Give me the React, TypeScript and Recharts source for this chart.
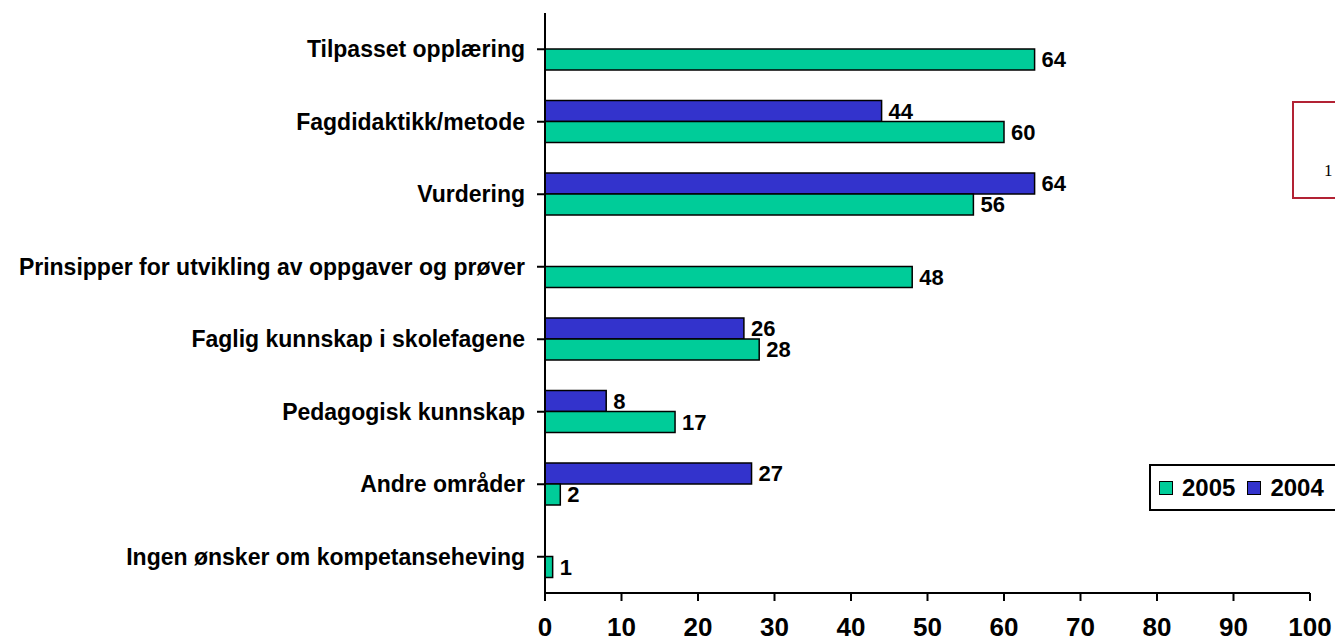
import React from 'react';
import { Bar, BarChart, LabelList, Legend, XAxis, YAxis } from 'recharts';

const categories = [
  'Tilpasset opplæring',
  'Fagdidaktikk/metode',
  'Vurdering',
  'Prinsipper for utvikling av oppgaver og prøver',
  'Faglig kunnskap i skolefagene',
  'Pedagogisk kunnskap',
  'Andre områder',
  'Ingen ønsker om kompetanseheving',
];
const values2005 = [64, 60, 56, 48, 28, 17, 2, 1];
const values2004: (number | null)[] = [null, 44, 64, null, 26, 8, 27, null];
const xTicks = [0, 10, 20, 30, 40, 50, 60, 70, 80, 90, 100];

const GREEN = '#00cc99';
const BLUE = '#3333cc';
const FONT = '"Liberation Sans", Arial, sans-serif';

const data = categories.map((name, i) => ({
  name,
  y2005: values2005[i],
  y2004: values2004[i],
}));

const ValueLabel = (props: any) => {
  const { x, y, width, height, value } = props;
  if (value === null || value === undefined) return null;
  return (
    <text
      x={x + width + 7}
      y={y + height / 2}
      dominantBaseline="central"
      fontFamily={FONT}
      fontWeight="bold"
      fontSize={22}
      fill="#000"
    >
      {value}
    </text>
  );
};

// legend order as in the original: 2005 first
const legendItems = [
  { label: '2005', color: GREEN },
  { label: '2004', color: BLUE },
];

const LegendBox = () => (
  <div
    style={{
      boxSizing: 'border-box',
      width: 200,
      height: 47,
      border: '2px solid #000',
      background: '#fff',
      paddingLeft: 8,
      display: 'flex',
      alignItems: 'center',
      fontFamily: FONT,
      fontWeight: 'bold',
      fontSize: 24,
      whiteSpace: 'nowrap',
    }}
  >
    {legendItems.map((it) => (
      <span key={it.label} style={{ display: 'flex', alignItems: 'center', marginRight: 12 }}>
        <span
          style={{
            boxSizing: 'border-box',
            width: 14,
            height: 14,
            background: it.color,
            border: '1.5px solid #000',
            marginRight: 9,
            display: 'inline-block',
          }}
        />
        {it.label}
      </span>
    ))}
  </div>
);

export default function App() {
  return (
    <div
      style={{
        position: 'fixed',
        left: 0,
        top: 0,
        width: 1335,
        height: 644,
        overflow: 'hidden',
        background: '#fff',
      }}
    >
      <BarChart
        width={1335}
        height={644}
        data={data}
        layout="vertical"
        margin={{ top: 13, right: 25, left: 0, bottom: 0 }}
        barGap={0}
      >
        <XAxis
          type="number"
          domain={[0, 100]}
          ticks={xTicks}
          interval={0}
          height={51}
          stroke="#000"
          strokeWidth={2}
          tickSize={8}
          tickMargin={17}
          tick={{ fontFamily: FONT, fontWeight: 'bold', fontSize: 26, fill: '#000' }}
        />
        <YAxis
          type="category"
          dataKey="name"
          width={545}
          stroke="#000"
          strokeWidth={2}
          tickSize={8}
          tickMargin={12}
          interval={0}
          tick={{ fontFamily: FONT, fontWeight: 'bold', fontSize: 23, fill: '#000' }}
        />
        <Legend
          verticalAlign="middle"
          align="center"
          wrapperStyle={{ position: 'absolute', left: 1149, top: 464, width: 200 }}
          content={() => <LegendBox />}
        />
        <Bar
          dataKey="y2004"
          name="2004"
          fill={BLUE}
          stroke="#000"
          strokeWidth={1.5}
          barSize={21}
          isAnimationActive={false}
        >
          <LabelList dataKey="y2004" content={ValueLabel} />
        </Bar>
        <Bar
          dataKey="y2005"
          name="2005"
          fill={GREEN}
          stroke="#000"
          strokeWidth={1.5}
          barSize={21}
          isAnimationActive={false}
        >
          <LabelList dataKey="y2005" content={ValueLabel} />
        </Bar>
      </BarChart>
      <div
        style={{
          position: 'absolute',
          left: 1292,
          top: 101,
          width: 80,
          height: 94,
          border: '2px solid #b22234',
          fontFamily: 'serif',
          fontSize: 17,
        }}
      >
        <span style={{ position: 'absolute', left: 30, top: 58 }}>1</span>
      </div>
    </div>
  );
}
